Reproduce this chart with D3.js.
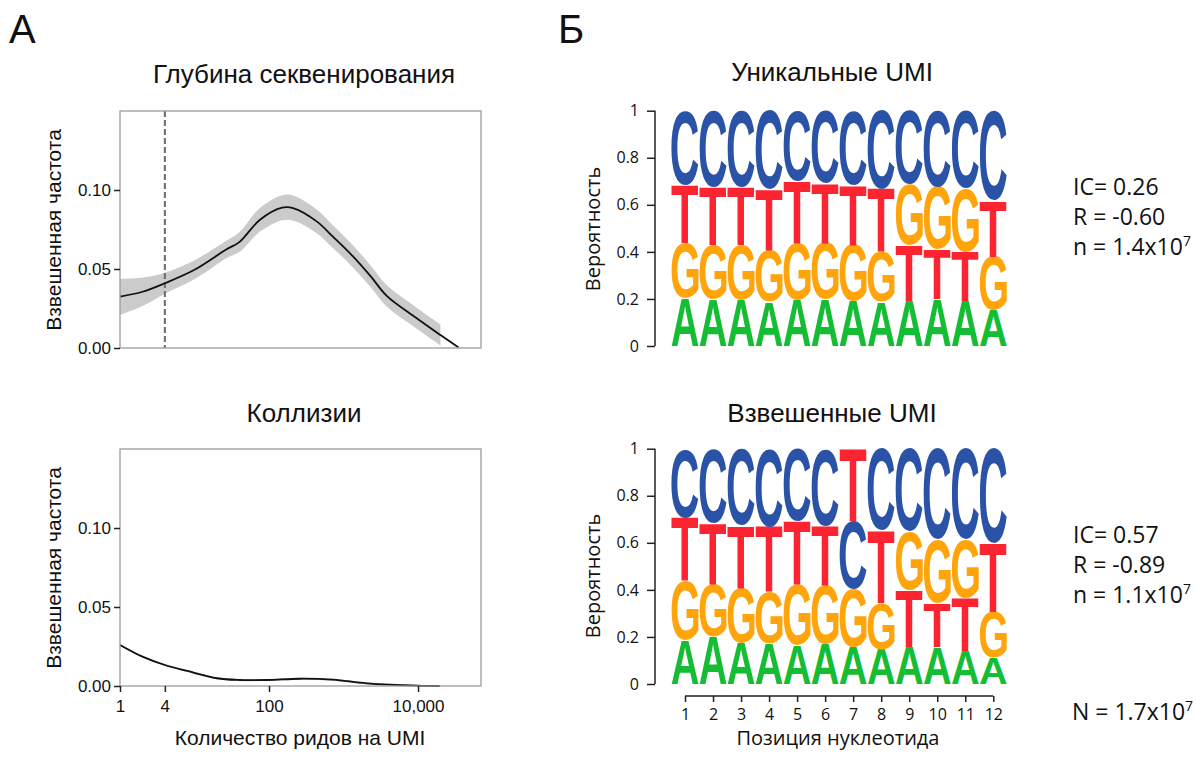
<!DOCTYPE html>
<html>
<head>
<meta charset="utf-8">
<script src="https://cdn.jsdelivr.net/npm/d3@7"></script>
<style>
  body { margin: 0; background: #fff; }
  svg { display: block; }
</style>
</head>
<body>
<svg id="fig" width="1196" height="758"></svg>
<script>
// ---- Panel A: weighted frequency vs reads per UMI (log scale) ----
const depthReads = [1, 2, 4, 10, 27, 40, 75, 150, 215, 440, 720, 1350, 2350, 3800, 9500, 20000, 35000];
const depthMean  = [0.0325, 0.0356, 0.0410, 0.0495, 0.0625, 0.0670, 0.0810, 0.0888, 0.0884, 0.0800, 0.0705, 0.0578, 0.0450, 0.0330, 0.0190, 0.0082, 0.0003];
const depthHigh  = [0.0437, 0.0446, 0.0476, 0.0555, 0.0680, 0.0733, 0.0885, 0.0967, 0.0963, 0.0875, 0.0777, 0.0648, 0.0518, 0.0398, 0.0256, 0.0148, null];
const depthLow   = [0.0209, 0.0266, 0.0344, 0.0435, 0.0570, 0.0607, 0.0735, 0.0809, 0.0805, 0.0725, 0.0633, 0.0508, 0.0382, 0.0262, 0.0124, 0.0016, null];
const depthThreshold = 4;

const collReads = [1, 2, 4, 8, 20, 40, 95, 260, 720, 2050, 9500, 19500];
const collMean  = [0.0260, 0.0186, 0.0133, 0.0095, 0.0049, 0.0038, 0.0038, 0.0046, 0.0040, 0.0017, 0.0002, 0.0000];
const collHigh  = [0.0266, 0.0192, 0.0139, 0.0101, 0.0055, 0.0044, 0.0044, 0.0052, 0.0046, 0.0023, 0.0008, 0.0005];
const collLow   = [0.0254, 0.0180, 0.0127, 0.0089, 0.0043, 0.0032, 0.0032, 0.0040, 0.0034, 0.0011, 0.0000, 0.0000];

const freqTicks = [0, 0.05, 0.10];
const readTicks = [1, 4, 100, 10000];

// ---- Panel B: nucleotide probabilities per UMI position ----
const positions = [1, 2, 3, 4, 5, 6, 7, 8, 9, 10, 11, 12];
const bases = ["A", "C", "G", "T"];

const uniqueA = [0.203, 0.200, 0.196, 0.188, 0.198, 0.200, 0.191, 0.188, 0.193, 0.200, 0.193, 0.153];
const uniqueC = [0.316, 0.323, 0.323, 0.334, 0.299, 0.309, 0.316, 0.334, 0.313, 0.323, 0.330, 0.382];
const uniqueG = [0.233, 0.229, 0.233, 0.220, 0.241, 0.239, 0.238, 0.210, 0.255, 0.266, 0.269, 0.227];
const uniqueT = [0.248, 0.248, 0.248, 0.258, 0.262, 0.252, 0.255, 0.268, 0.239, 0.211, 0.208, 0.238];

const weightedA = [0.188, 0.202, 0.176, 0.173, 0.166, 0.170, 0.159, 0.148, 0.159, 0.156, 0.142, 0.112];
const weightedC = [0.293, 0.315, 0.325, 0.332, 0.308, 0.327, 0.289, 0.347, 0.351, 0.386, 0.386, 0.401];
const weightedG = [0.249, 0.224, 0.232, 0.216, 0.256, 0.250, 0.244, 0.196, 0.248, 0.270, 0.246, 0.196];
const weightedT = [0.270, 0.259, 0.267, 0.279, 0.270, 0.253, 0.308, 0.309, 0.242, 0.188, 0.226, 0.291];

const probTicks = [0, 0.2, 0.4, 0.6, 0.8, 1];

const uniqueStats   = [["IC= 0.26", null], ["R = -0.60", null], ["n = 1.4x10", "7"]];
const weightedStats = [["IC= 0.57", null], ["R = -0.89", null], ["n = 1.1x10", "7"]];
const totalStat     = ["N = 1.7x10", "7"];

const baseColor = { A: "#14bd33", C: "#2a53a7", G: "#ffa40a", T: "#fb2430" };

// ---- drawing ----
const SANS = "'Liberation Sans', Arial, Helvetica, sans-serif";
const HUM  = "'Open Sans', 'Noto Sans', sans-serif";
const svg = d3.select("#fig");

function label(x, y, txt, size, family, anchor = "start", rotate = 0) {
  return svg.append("text")
    .attr("transform", `translate(${x},${y}) rotate(${rotate})`)
    .attr("text-anchor", anchor)
    .style("font-family", family)
    .style("font-size", size + "px")
    .attr("fill", "#111")
    .text(txt);
}

label(9, 43, "А", 40, SANS);
label(558, 43, "Б", 40, SANS);

function densityPanel(opt) {
  const x = d3.scaleLog().domain([1, 70000]).range([120, 481]);
  const y = d3.scaleLinear().domain([0, 0.15]).range([opt.top + 237, opt.top]);
  const g = svg.append("g");
  const pts = opt.reads.map((r, i) => ({ r, m: opt.mean[i], lo: opt.low[i], hi: opt.high[i] }));
  const curve = d3.curveCatmullRom.alpha(0.5);

  g.append("path")
    .datum(pts.filter(d => d.lo != null))
    .attr("d", d3.area().x(d => x(d.r)).y0(d => y(d.lo)).y1(d => y(d.hi)).curve(curve))
    .attr("fill", opt.bandColor);

  if (opt.threshold) {
    g.append("line")
      .attr("x1", x(opt.threshold)).attr("x2", x(opt.threshold))
      .attr("y1", y(0.15)).attr("y2", y(0))
      .attr("stroke", "#6a6a6a").attr("stroke-width", 2)
      .attr("stroke-dasharray", "6,3");
  }

  g.append("path")
    .datum(pts)
    .attr("d", d3.line().x(d => x(d.r)).y(d => y(d.m)).curve(curve))
    .attr("fill", "none").attr("stroke", "#111").attr("stroke-width", 1.8);

  g.append("rect")
    .attr("x", 120).attr("y", opt.top).attr("width", 361).attr("height", 237)
    .attr("fill", "none").attr("stroke", "#9c9c9c").attr("stroke-width", 1.3);

  const ya = g.append("g").attr("transform", "translate(120,0)")
    .call(d3.axisLeft(y).tickValues(freqTicks).tickFormat(d3.format(".2f")).tickSize(6).tickPadding(3));
  ya.select(".domain").remove();
  ya.selectAll("line").attr("stroke", "#222").attr("stroke-width", 1.5);
  ya.selectAll("text").style("font-family", SANS).style("font-size", "17px").attr("fill", "#111");

  if (opt.showX) {
    const xa = g.append("g").attr("transform", `translate(0,${opt.top + 237})`)
      .call(d3.axisBottom(x).tickValues(readTicks).tickFormat(d3.format(",")).tickSize(6).tickPadding(8));
    xa.select(".domain").remove();
    xa.selectAll("line").attr("stroke", "#222").attr("stroke-width", 1.5);
    xa.selectAll("text").style("font-family", SANS).style("font-size", "17px").attr("fill", "#111");
    label(300, 745, "Количество ридов на UMI", 21, SANS, "middle");
  }

  label(304, opt.titleY, opt.title, 26, SANS, "middle");
  label(61, opt.top + 119, "Взвешенная частота", 21, SANS, "middle", -90);
}

densityPanel({ top: 111, title: "Глубина секвенирования", titleY: 83,
  reads: depthReads, mean: depthMean, low: depthLow, high: depthHigh,
  bandColor: "#cbcbcb", threshold: depthThreshold, showX: false });
densityPanel({ top: 449, title: "Коллизии", titleY: 422,
  reads: collReads, mean: collMean, low: collLow, high: collHigh,
  bandColor: "#bdbdbd", threshold: null, showX: true });

// glyph bounds measured once so each letter can be stretched to its cell
const measure = document.createElement("canvas").getContext("2d");
const GLYPH_FONT = `bold 100px ${SANS}`;
measure.font = GLYPH_FONT;
const glyphBox = {};
bases.forEach(b => {
  const m = measure.measureText(b);
  glyphBox[b] = { L: m.actualBoundingBoxLeft, R: m.actualBoundingBoxRight,
                  A: m.actualBoundingBoxAscent, D: m.actualBoundingBoxDescent };
});

function logoPanel(opt) {
  const x = d3.scaleLinear().domain([1, 12]).range([685, 993.3]);
  const y = d3.scaleLinear().domain([0, 1]).range([opt.bottom, opt.bottom - 235.3]);
  const g = svg.append("g");
  const letterW = 27;

  positions.forEach((pos, i) => {
    const stack = bases.map(b => ({ b, p: opt.probs[b][i] })).sort((a, c) => a.p - c.p);
    let cum = 0;
    stack.forEach(s => {
      const y0 = y(cum), y1 = y(cum + s.p);
      const box = glyphBox[s.b];
      const sx = letterW / (box.L + box.R);
      const sy = (y0 - y1) / (box.A + box.D);
      g.append("text")
        .attr("transform", `translate(${x(pos) - letterW / 2},${y1}) scale(${sx},${sy}) translate(${box.L},${box.A})`)
        .style("font", GLYPH_FONT)
        .attr("fill", baseColor[s.b])
        .text(s.b);
      cum += s.p;
    });
  });

  const ya = g.append("g").attr("transform", "translate(655,0)")
    .call(d3.axisLeft(y).tickValues(probTicks).tickFormat(d3.format("~g")).tickSize(8).tickPadding(8));
  ya.select(".domain").attr("stroke", "#222").attr("stroke-width", 1.5).attr("d", `M0,${y(0)}V${y(1)}`);
  ya.selectAll("line").attr("stroke", "#222").attr("stroke-width", 1.5);
  ya.selectAll("text").style("font-family", HUM).style("font-size", "16px").attr("fill", "#111");

  if (opt.showX) {
    const xa = g.append("g").attr("transform", `translate(0,${opt.bottom + 12})`)
      .call(d3.axisBottom(x).tickValues(positions).tickFormat(d3.format("d")).tickSize(6).tickPadding(7));
    xa.select(".domain").attr("stroke", "#222").attr("stroke-width", 1.5).attr("d", `M${x(1)},0H${x(12)}`);
    xa.selectAll("line").attr("stroke", "#222").attr("stroke-width", 1.5);
    xa.selectAll("text").style("font-family", HUM).style("font-size", "16px").attr("fill", "#111");
    label(838, 745, "Позиция нуклеотида", 20, HUM, "middle");
  }

  label(832, opt.titleY, opt.title, 26, SANS, "middle");
  label(600, opt.labelY, "Вероятность", 20, HUM, "middle", -90);

  opt.stats.forEach((s, k) => statLine(1073, opt.statsY + k * 30, s));
}

function statLine(x, y, s) {
  const t = label(x, y, s[0], 23, HUM);
  if (s[1]) {
    t.append("tspan").attr("dy", -9).style("font-size", "14px").text(s[1]);
  }
}

logoPanel({ bottom: 346, title: "Уникальные UMI", titleY: 81, labelY: 229,
  probs: { A: uniqueA, C: uniqueC, G: uniqueG, T: uniqueT },
  stats: uniqueStats, statsY: 195, showX: false });
logoPanel({ bottom: 684, title: "Взвешенные UMI", titleY: 422, labelY: 576,
  probs: { A: weightedA, C: weightedC, G: weightedG, T: weightedT },
  stats: weightedStats, statsY: 543, showX: true });

statLine(1072, 720, totalStat);
</script>
</body>
</html>
